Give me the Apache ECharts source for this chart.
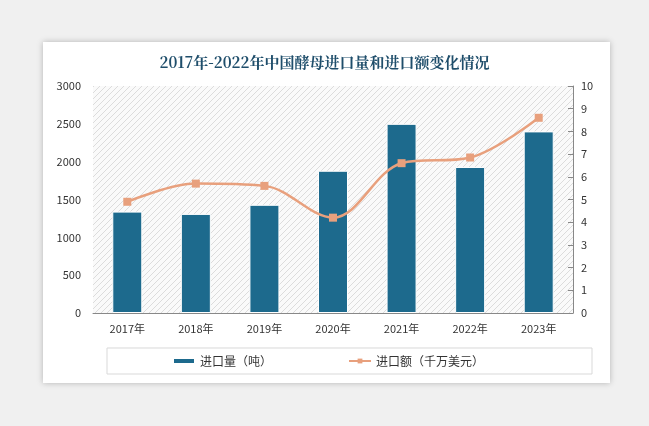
<!DOCTYPE html><html><head><meta charset="utf-8">
<script src="https://cdn.jsdelivr.net/npm/echarts@6/dist/echarts.min.js"></script>
<style>html,body{margin:0;background:#f0f0f0}#wrap{position:absolute;left:43px;top:42px;width:567px;height:341px;background:#fff;box-shadow:0 0 6px rgba(0,0,0,0.25)}#c{width:649px;height:426px;position:absolute;left:0;top:0}</style>
</head><body><div id="wrap"></div><div id="c"></div><script>
const categories=['2017年','2018年','2019年','2020年','2021年','2022年','2023年'];
const volume=[1340,1310,1430,1880,2500,1930,2400];
const amount=[4.9,5.7,5.6,4.2,6.6,6.85,8.6];
const cv=document.createElement('canvas');cv.width=6;cv.height=6;
const g=cv.getContext('2d');g.fillStyle='#fafafa';g.fillRect(0,0,6,6);g.strokeStyle='#dcdcdc';g.lineWidth=1;
g.beginPath();g.moveTo(0,6);g.lineTo(6,0);g.moveTo(-1,1);g.lineTo(1,-1);g.moveTo(5,7);g.lineTo(7,5);g.stroke();
const ch=echarts.init(document.getElementById('c'));
const ft='"Noto Sans CJK SC"';
const lf=v=>String(v);
ch.setOption({
title:{text:'2017年-2022年中国酵母进口量和进口额变化情况',left:'center',top:50,textStyle:{fontFamily:'"Noto Serif CJK SC",'+ft,fontSize:15,fontWeight:'bold',color:'#1f4e6b'}},
grid:{left:93,right:76,top:86,bottom:113,show:true,borderWidth:0,backgroundColor:{image:cv,repeat:'repeat'}},
legend:{bottom:52,left:107,itemGap:76,backgroundColor:'#fff',borderColor:'#d9d9d9',borderWidth:1,padding:[7,108,7,65],textStyle:{fontFamily:ft,fontSize:12,color:'#333'},
data:[{name:'进口量（吨）',icon:'rect',itemStyle:{color:'#1d6a8d'}},{name:'进口额（千万美元）'}],itemWidth:22,itemHeight:6},
xAxis:{type:'category',data:categories,axisTick:{show:false},axisLine:{lineStyle:{color:'#888'}},axisLabel:{fontFamily:ft,fontSize:11,color:'#333',margin:10}},
yAxis:[{type:'value',min:0,max:3000,interval:500,splitLine:{show:false},axisLabel:{formatter:lf,fontFamily:ft,fontSize:11,color:'#333',margin:12}},
{type:'value',min:0,max:10,interval:1,splitLine:{show:false},axisLine:{show:true,lineStyle:{color:'#888'}},axisTick:{show:true,inside:true,lineStyle:{color:'#888'}},axisLabel:{fontFamily:ft,fontSize:11,color:'#333'}}],
series:[{name:'进口量（吨）',type:'bar',data:volume,barWidth:30,itemStyle:{color:'#1d6a8d',borderColor:'#fff',borderWidth:1}},
{name:'进口额（千万美元）',type:'line',yAxisIndex:1,data:amount,smooth:0.35,symbol:'rect',symbolSize:8,itemStyle:{color:'#e8a07d'},lineStyle:{color:'#e8a07d',width:2.5}}]
});
</script></body></html>
